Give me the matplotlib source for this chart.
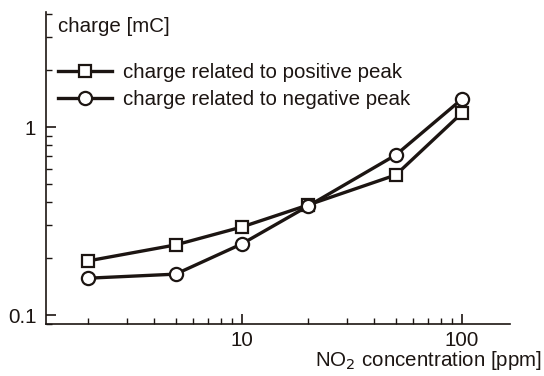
import matplotlib
matplotlib.use("Agg")
import matplotlib.pyplot as plt
from matplotlib.ticker import LogLocator, NullFormatter, FixedLocator, FixedFormatter

plt.rcParams['font.family'] = ['Liberation Sans', 'DejaVu Sans']

# NO2 concentration [ppm]
conc = [2, 5, 10, 20, 50, 100]
# charge [mC]
charge_pos = [0.194, 0.236, 0.294, 0.385, 0.556, 1.19]
charge_neg = [0.157, 0.165, 0.239, 0.38, 0.71, 1.41]

ink = '#1c1512'
fs = 14.8

fig = plt.figure(figsize=(5.44, 3.76), dpi=100)
ax = fig.add_axes([46 / 544, 1 - 324 / 376, (510 - 46) / 544, (324 - 12) / 376])

ax.plot(conc, charge_pos, color=ink, lw=2.4, marker='s', ms=9,
        mfc='white', mec=ink, mew=1.6, label='charge related to positive peak')
ax.plot(conc, charge_neg, color=ink, lw=2.4, marker='o', ms=9.5,
        mfc='white', mec=ink, mew=1.6, label='charge related to negative peak')

ax.set_xscale('log')
ax.set_yscale('log')
ax.set_xlim(1.29, 165)
ax.set_ylim(0.0896, 4.09)

ax.spines['top'].set_visible(False)
ax.spines['right'].set_visible(False)
for s in ('left', 'bottom'):
    ax.spines[s].set_color(ink)
    ax.spines[s].set_linewidth(1.2)

ax.xaxis.set_major_locator(FixedLocator([10, 100]))
ax.xaxis.set_major_formatter(FixedFormatter(['10', '100']))
ax.yaxis.set_major_locator(FixedLocator([0.1, 1]))
ax.yaxis.set_major_formatter(FixedFormatter(['0.1', '1']))
ax.xaxis.set_minor_locator(LogLocator(base=10, subs=range(2, 10)))
ax.yaxis.set_minor_locator(LogLocator(base=10, subs=range(2, 10)))
ax.xaxis.set_minor_formatter(NullFormatter())
ax.yaxis.set_minor_formatter(NullFormatter())
ax.tick_params(which='both', direction='in', colors=ink, labelsize=fs)
ax.tick_params(which='major', length=7, width=1.2)
ax.tick_params(which='minor', length=4, width=1)
ax.tick_params(axis='x', pad=5)
ax.tick_params(axis='y', pad=7)

ax.text(0.026, 0.953, 'charge [mC]', transform=ax.transAxes, fontsize=fs,
        color=ink, va='center', ha='left')
fig.text(542 / 544, 1 - 361 / 376, 'NO$_2$ concentration [ppm]', fontsize=fs,
         color=ink, ha='right', va='center')

ax.legend(loc='upper left', bbox_to_anchor=(0.026, 0.837), frameon=False,
          borderaxespad=0, borderpad=0,
          fontsize=fs, handlelength=2.6, handletextpad=0.55, labelspacing=0.4,
          labelcolor=ink)

fig.savefig('out.png', dpi=100)
